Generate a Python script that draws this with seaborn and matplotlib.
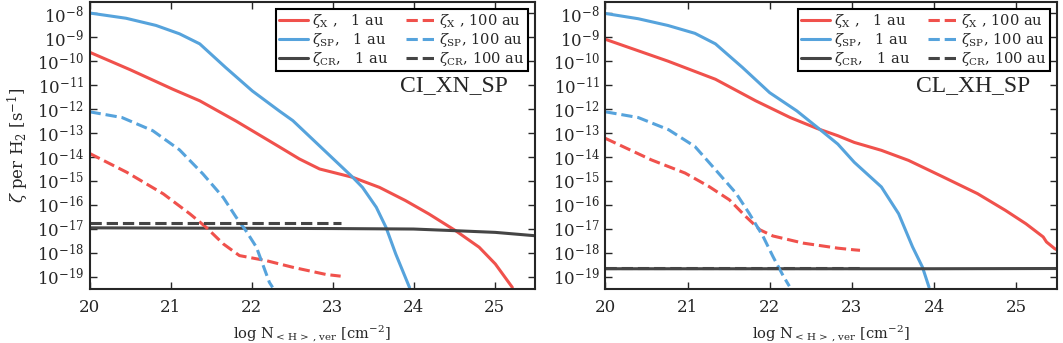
import numpy as np
import pandas as pd
import seaborn as sns
import matplotlib
matplotlib.use("Agg")
import matplotlib.pyplot as plt
from matplotlib.ticker import FuncFormatter

# ---- data (log10 of N and zeta values) ----
# left panel: CI_XN_SP
l_x1_N = [20.0, 20.5, 21.03, 21.36, 21.81, 22.34, 22.59, 22.84, 23.25, 23.58, 23.9, 24.19, 24.52, 24.81, 25.01, 25.22]
l_x1_z = [-9.62, -10.35, -11.17, -11.65, -12.5, -13.57, -14.08, -14.5, -14.85, -15.27, -15.82, -16.38, -17.08, -17.77, -18.47, -19.45]
l_sp1_N = [20.0, 20.45, 20.82, 21.11, 21.36, 21.68, 22.01, 22.34, 22.51, 23.25, 23.37, 23.54, 23.66, 23.78, 23.95]
l_sp1_z = [-7.98, -8.2, -8.5, -8.85, -9.27, -10.26, -11.24, -12.07, -12.48, -14.85, -15.27, -16.1, -16.94, -18.05, -19.45]
l_cr1_N = [20.0, 21.0, 22.0, 23.0, 24.0, 24.52, 25.01, 25.5]
l_cr1_z = [-16.96, -16.97, -16.98, -16.99, -17.01, -17.08, -17.15, -17.29]
l_x100_N = [20.0, 20.46, 20.91, 21.24, 21.44, 21.65, 21.85, 22.18, 22.51, 22.92, 23.1]
l_x100_z = [-13.85, -14.64, -15.54, -16.38, -16.94, -17.63, -18.12, -18.33, -18.61, -18.91, -18.98]
l_sp100_N = [20.0, 20.4, 20.78, 21.11, 21.4, 21.65, 21.81, 21.93, 22.06, 22.22, 22.26]
l_sp100_z = [-12.11, -12.35, -12.9, -13.7, -14.71, -15.69, -16.52, -17.08, -17.77, -19.24, -19.45]
l_cr100_N = [20.0, 23.1]
l_cr100_z = [-16.74, -16.74]

# right panel: CL_XH_SP
r_x1_N = [20.0, 20.76, 21.34, 21.83, 22.25, 22.58, 22.83, 23.03, 23.36, 23.69, 24.11, 24.53, 24.87, 25.12, 25.33, 25.37, 25.47, 25.5]
r_x1_z = [-9.08, -9.99, -10.75, -11.65, -12.35, -12.81, -13.11, -13.39, -13.72, -14.14, -14.83, -15.53, -16.23, -16.79, -17.34, -17.55, -17.83, -17.88]
r_sp1_N = [20.0, 20.4, 20.76, 21.09, 21.34, 21.67, 22.0, 22.33, 22.58, 22.83, 23.03, 23.36, 23.57, 23.74, 23.86, 23.94]
r_sp1_z = [-8.0, -8.22, -8.5, -8.83, -9.27, -10.26, -11.31, -12.07, -12.76, -13.46, -14.22, -15.25, -16.37, -17.76, -18.6, -19.44]
r_cr1_N = [20.0, 22.0, 24.0, 25.5]
r_cr1_z = [-18.67, -18.67, -18.67, -18.66]
r_x100_N = [20.0, 20.56, 20.97, 21.26, 21.51, 21.71, 21.88, 22.04, 22.41, 22.83, 23.03, 23.1]
r_x100_z = [-13.22, -14.12, -14.67, -15.23, -15.79, -16.49, -17.04, -17.3, -17.6, -17.81, -17.88, -17.9]
r_sp100_N = [20.0, 20.4, 20.77, 21.09, 21.34, 21.59, 21.75, 21.92, 22.04, 22.17, 22.24]
r_sp100_z = [-12.11, -12.35, -12.86, -13.56, -14.53, -15.51, -16.35, -17.32, -18.16, -19.0, -19.4]
r_cr100_N = [20.0, 23.1]
r_cr100_z = [-18.64, -18.64]

panel_names = ["CI_XN_SP", "CL_XH_SP"]
labels = [r"$\zeta_{\rm X}$ ,   1 au", r"$\zeta_{\rm SP}$,   1 au", r"$\zeta_{\rm CR}$,   1 au",
          r"$\zeta_{\rm X}$ , 100 au", r"$\zeta_{\rm SP}$, 100 au", r"$\zeta_{\rm CR}$, 100 au"]
x_ticks = [20, 21, 22, 23, 24, 25]
y_exponents = list(range(-19, -7))

red, blue, grey = "#f0514c", "#56a3dc", "#454545"

panels = [
    [(l_x1_N, l_x1_z), (l_sp1_N, l_sp1_z), (l_cr1_N, l_cr1_z),
     (l_x100_N, l_x100_z), (l_sp100_N, l_sp100_z), (l_cr100_N, l_cr100_z)],
    [(r_x1_N, r_x1_z), (r_sp1_N, r_sp1_z), (r_cr1_N, r_cr1_z),
     (r_x100_N, r_x100_z), (r_sp100_N, r_sp100_z), (r_cr100_N, r_cr100_z)],
]
colors = [red, blue, grey, red, blue, grey]
styles = ["-", "-", "-", "--", "--", "--"]

sns.set_theme(style="ticks")
plt.rcParams["font.family"] = ["DejaVu Serif"]
plt.rcParams["mathtext.fontset"] = "dejavuserif"
plt.rcParams["axes.linewidth"] = 1.5

fig = plt.figure(figsize=(10.63, 3.43), dpi=100)
axes = [fig.add_axes([0.0843, 0.157, 0.419, 0.837]),
        fig.add_axes([0.5695, 0.157, 0.425, 0.837])]

fmt = FuncFormatter(lambda v, p: r"$10^{%d}$" % round(np.log10(v)))

for ax, series, name in zip(axes, panels, panel_names):
    for (n, z), c, ls, lab in zip(series, colors, styles, labels):
        df = pd.DataFrame({"N": n, "zeta": 10.0 ** np.array(z)})
        sns.lineplot(data=df, x="N", y="zeta", ax=ax, color=c, linestyle=ls,
                     linewidth=2.2, label=lab, sort=False)
    ax.set_yscale("log")
    ax.set_xlim(20, 25.5)
    ax.set_ylim(3e-20, 3e-8)
    ax.set_yticks([10.0 ** e for e in y_exponents])
    ax.yaxis.set_minor_locator(plt.NullLocator())
    ax.yaxis.set_major_formatter(fmt)
    ax.set_xticks(x_ticks)
    ax.tick_params(direction="in", top=True, right=True, length=5, width=1,
                   labelsize=12)
    ax.tick_params(axis="x", pad=7)
    ax.tick_params(axis="y", pad=4)
    ax.set_xlabel(r"log N$_{\rm <\,H\,>\,,\,ver}$ [cm$^{-2}$]", fontsize=10.5,
                  labelpad=5)
    ax.set_ylabel("")
    ax.text(0.94, 0.71, name, transform=ax.transAxes, ha="right", va="center",
            fontsize=17, family=["Liberation Serif"])
    leg = ax.legend(loc="upper right", ncol=2, fontsize=10.5, frameon=True,
                    fancybox=False, framealpha=1, edgecolor="black",
                    handlelength=2.0, handletextpad=0.3, columnspacing=1.2,
                    labelspacing=0.05, borderpad=0.2, borderaxespad=0.5)
    leg.get_frame().set_linewidth(1.5)

axes[0].set_ylabel(r"$\zeta$ per H$_2$ [s$^{-1}$]", fontsize=12)

fig.savefig("out.png", dpi=100)
